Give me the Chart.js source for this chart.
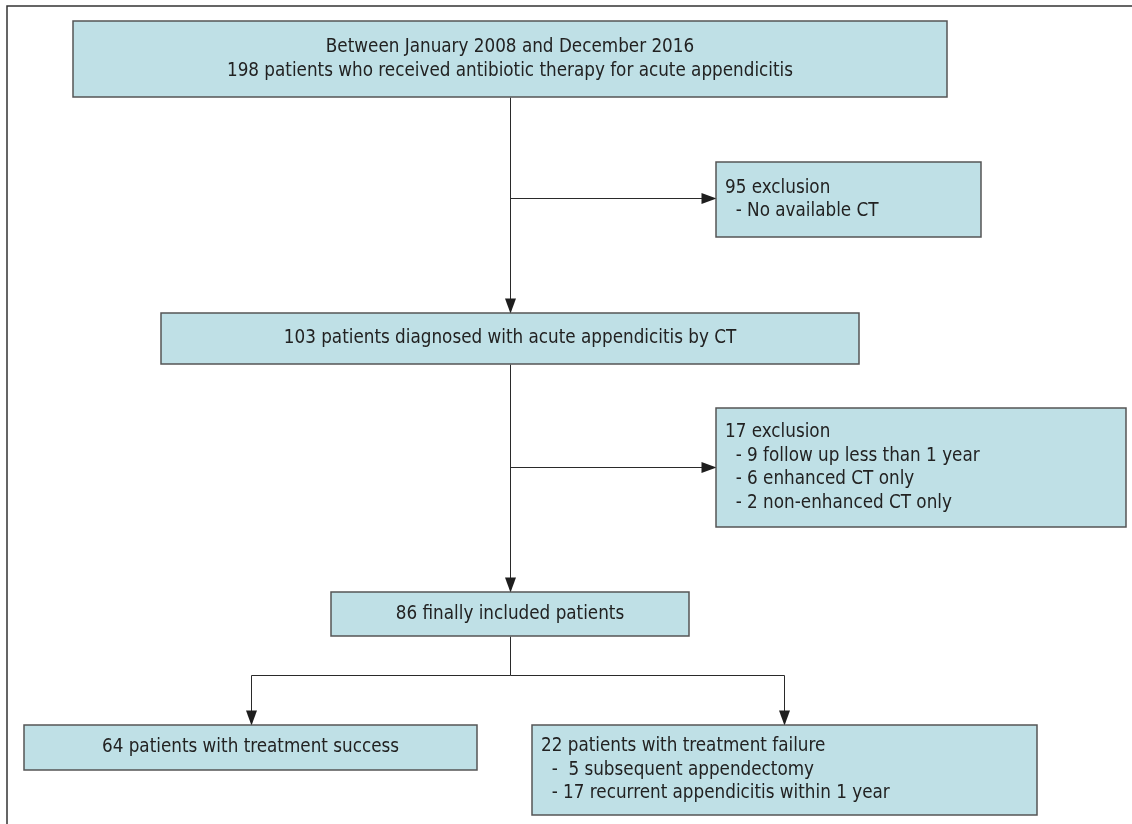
<!DOCTYPE html>
<html>
<head>
<meta charset="utf-8">
<script src="https://cdn.jsdelivr.net/npm/chart.js@4"></script>
<style>
  body { margin: 0; background: #fff; }
  #wrap { width: 1132px; height: 824px; }
</style>
</head>
<body>
<div id="wrap"><canvas id="flowChart" width="1132" height="824"></canvas></div>
<script>
// patient counts at each step of the flow
const stageNames = ['enrolled', 'excluded1', 'diagnosed', 'excluded2', 'included', 'success', 'failure'];
const stageCounts = [198, 95, 103, 17, 86, 64, 22];

// text shown in each box
const boxTexts = [
    ['Between January 2008 and December 2016', '198 patients who received antibiotic therapy for acute appendicitis'],
    ['95 exclusion', '  - No available CT'],
    ['103 patients diagnosed with acute appendicitis by CT'],
    ['17 exclusion', '  - 9 follow up less than 1 year', '  - 6 enhanced CT only', '  - 2 non-enhanced CT only'],
    ['86 finally included patients'],
    ['64 patients with treatment success'],
    ['22 patients with treatment failure', '  -  5 subsequent appendectomy', '  - 17 recurrent appendicitis within 1 year']
];

// layout (in axis units): left, top, right, bottom, text align
const boxLayout = [
    { x0: 73,  y0: 21,  x1: 947,  y1: 97,  align: 'center' },
    { x0: 716, y0: 162, x1: 981,  y1: 237, align: 'left' },
    { x0: 161, y0: 313, x1: 859,  y1: 364, align: 'center' },
    { x0: 716, y0: 408, x1: 1126, y1: 527, align: 'left' },
    { x0: 331, y0: 592, x1: 689,  y1: 636, align: 'center' },
    { x0: 24,  y0: 725, x1: 477,  y1: 770, align: 'center' },
    { x0: 532, y0: 725, x1: 1037, y1: 815, align: 'left' }
];

// connectors: polyline points, arrow at the last point
const links = [
    [[510, 97], [510, 313]],
    [[510, 198], [716, 198]],
    [[510, 364], [510, 592]],
    [[510, 467], [716, 467]],
    [[510, 636], [510, 675], [251, 675], [251, 725]],
    [[510, 675], [784, 675], [784, 725]]
];

const flowPlugin = {
    id: 'flow',
    afterDatasetsDraw(chart) {
        const ctx = chart.ctx;
        const xs = chart.scales.x, ys = chart.scales.y;
        const px = v => xs.getPixelForValue(v);
        const py = v => ys.getPixelForValue(v);
        ctx.save();

        // outer frame (top and left only)
        ctx.strokeStyle = '#333';
        ctx.lineWidth = 1.5;
        ctx.beginPath();
        ctx.moveTo(px(7), py(824));
        ctx.lineTo(px(7), py(6));
        ctx.lineTo(px(1132), py(6));
        ctx.stroke();

        // connectors
        ctx.strokeStyle = '#2a2a2a';
        ctx.fillStyle = '#1e1e1e';
        ctx.lineWidth = 1;
        links.forEach(pts => {
            ctx.beginPath();
            pts.forEach((p, i) => {
                const X = Math.round(px(p[0])) + 0.5, Y = Math.round(py(p[1])) + 0.5;
                if (i === 0) ctx.moveTo(X, Y); else ctx.lineTo(X, Y);
            });
            ctx.stroke();
            const a = pts[pts.length - 2], b = pts[pts.length - 1];
            const bx = Math.round(px(b[0])) + 0.5, by = Math.round(py(b[1])) + 0.5;
            const ang = Math.atan2(py(b[1]) - py(a[1]), px(b[0]) - px(a[0]));
            const L = 15, W = 5.5;
            ctx.beginPath();
            ctx.moveTo(bx, by);
            ctx.lineTo(bx - L * Math.cos(ang) + W * Math.sin(ang), by - L * Math.sin(ang) - W * Math.cos(ang));
            ctx.lineTo(bx - L * Math.cos(ang) - W * Math.sin(ang), by - L * Math.sin(ang) + W * Math.cos(ang));
            ctx.closePath();
            ctx.fill();
        });

        // boxes
        ctx.font = '18.7px "Liberation Sans Narrow", "DejaVu Sans Condensed", sans-serif';
        ctx.textBaseline = 'middle';
        boxLayout.forEach((b, i) => {
            const x0 = px(b.x0), x1 = px(b.x1), y0 = py(b.y0), y1 = py(b.y1);
            ctx.fillStyle = '#bfe0e6';
            ctx.fillRect(x0, y0, x1 - x0, y1 - y0);
            ctx.strokeStyle = '#555';
            ctx.lineWidth = 1.5;
            ctx.strokeRect(x0, y0, x1 - x0, y1 - y0);

            const lines = boxTexts[i];
            const lh = 23.5;
            const mid = (y0 + y1) / 2;
            ctx.fillStyle = '#222';
            lines.forEach((t, j) => {
                const y = mid + (j - (lines.length - 1) / 2) * lh;
                if (b.align === 'center') {
                    ctx.textAlign = 'center';
                    ctx.fillText(t, (x0 + x1) / 2, y);
                } else {
                    ctx.textAlign = 'left';
                    ctx.fillText(t, x0 + 9, y);
                }
            });
        });
        ctx.restore();
    }
};

new Chart(document.getElementById('flowChart').getContext('2d'), {
    type: 'scatter',
    data: {
        labels: stageNames,
        datasets: [{
            label: 'Patients',
            // one invisible anchor per stage at its box centre
            data: boxLayout.map((b, i) => ({ x: (b.x0 + b.x1) / 2, y: (b.y0 + b.y1) / 2, n: stageCounts[i] })),
            pointRadius: 0
        }]
    },
    options: {
        responsive: false,
        animation: false,
        devicePixelRatio: 1,
        layout: { padding: 0 },
        plugins: { legend: { display: false }, tooltip: { enabled: false } },
        scales: {
            x: { type: 'linear', min: 0, max: 1132, display: false },
            y: { type: 'linear', min: 0, max: 824, reverse: true, display: false }
        }
    },
    plugins: [flowPlugin]
});
</script>
</body>
</html>
